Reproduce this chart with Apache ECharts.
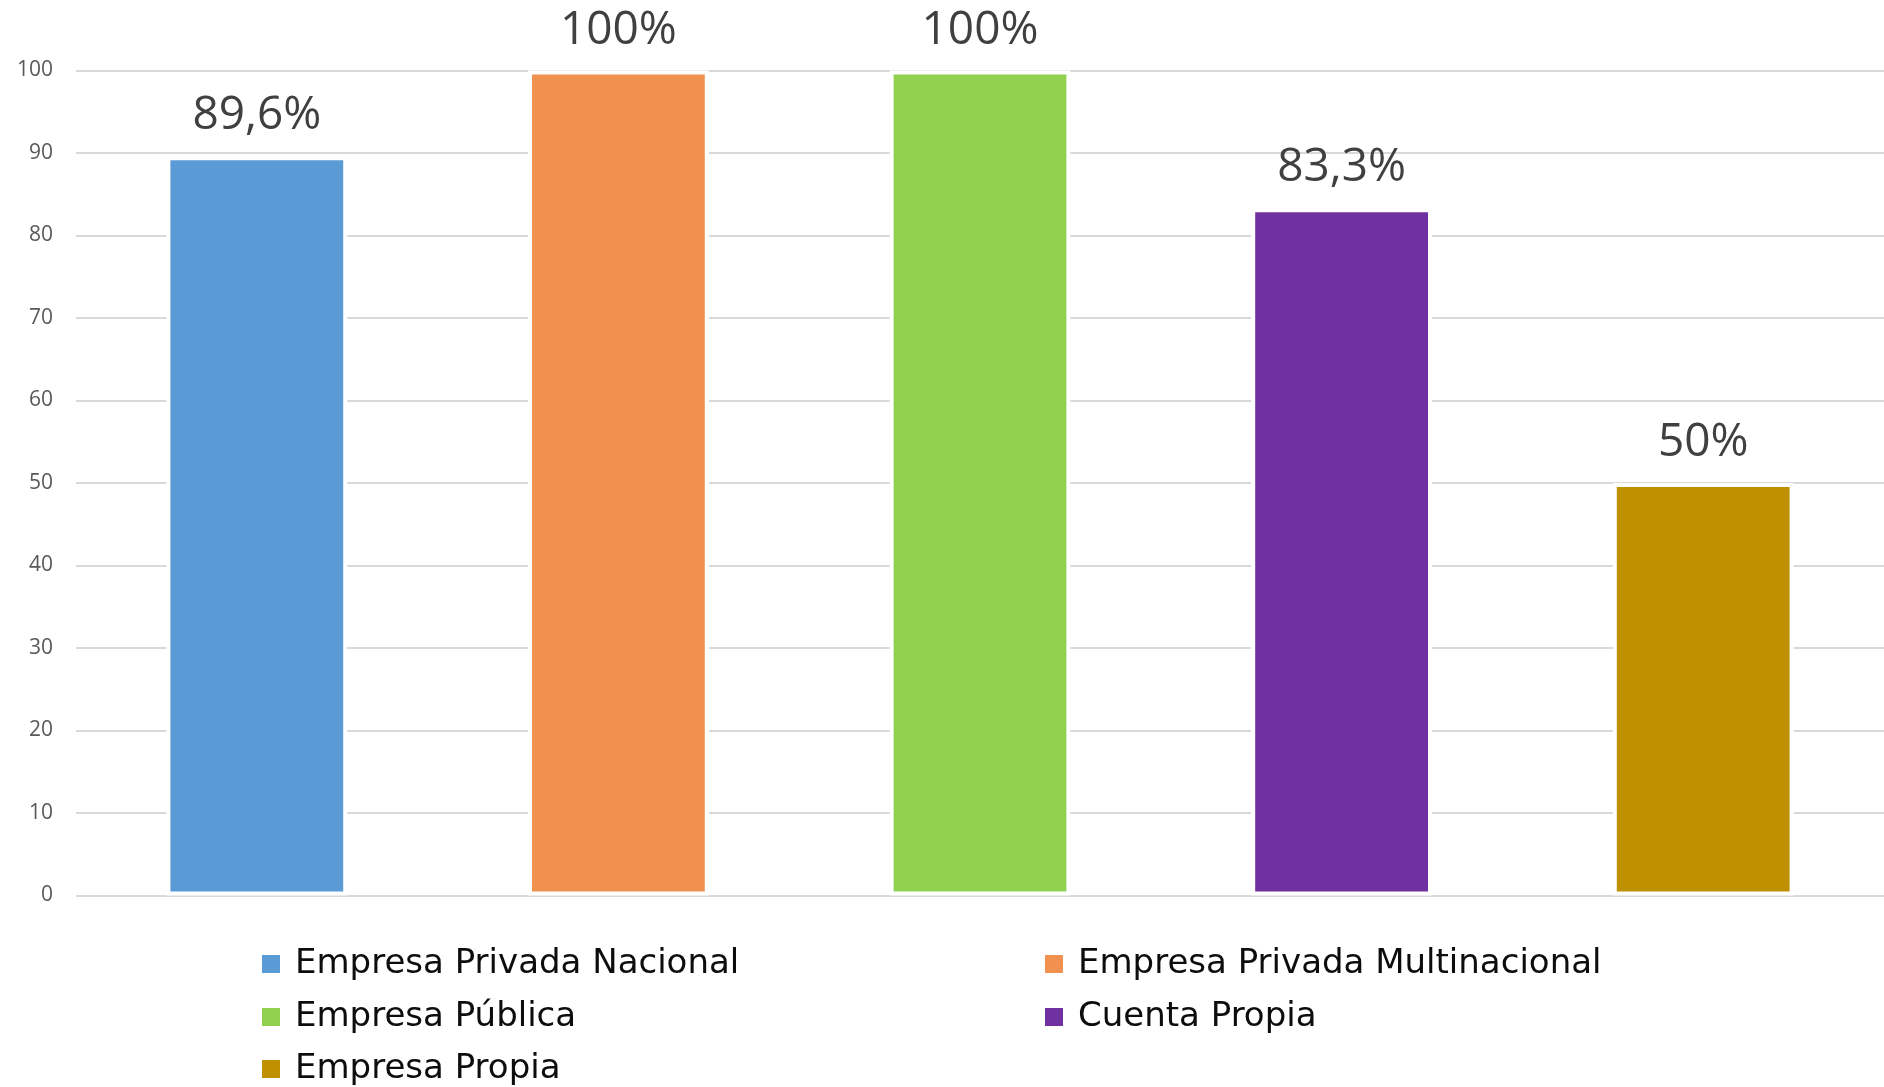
<!DOCTYPE html>
<html>
<head>
<meta charset="utf-8">
<script src="https://cdn.jsdelivr.net/npm/echarts@6/dist/echarts.min.js"></script>
<style>
html,body{margin:0;padding:0;background:#fff;}
#chart{width:1884px;height:1087px;}
</style>
</head>
<body>
<div id="chart"></div>
<script>
var categories = ['Empresa Privada Nacional', 'Empresa Privada Multinacional', 'Empresa Pública', 'Cuenta Propia', 'Empresa Propia'];
var values = [89.6, 100, 100, 83.3, 50];
var yTicks = [0, 10, 20, 30, 40, 50, 60, 70, 80, 90, 100];
var colors = ['#5B9BD5', '#F09150', '#92D050', '#7030A0', '#BF9000'];

var chart = echarts.init(document.getElementById('chart'));

var series = categories.map(function (name, i) {
  var data = categories.map(function (c, j) { return j === i ? values[i] : '-'; });
  return {
    name: name,
    type: 'bar',
    stack: 'all',
    barWidth: '50%',
    data: data,
    itemStyle: { color: colors[i], borderColor: '#ffffff', borderWidth: 4 },
    label: {
      show: true,
      position: 'top',
      distance: 17,
      fontFamily: 'Open Sans',
      fontSize: 46,
      color: '#404040',
      formatter: function (p) { return String(p.value).replace('.', ',') + '%'; }
    }
  };
});

// legend placement: column x and row center y for each category
var legendLeft = [260, 1043, 260, 1043, 260];
var legendRowCenter = [964, 964, 1017, 1017, 1069];
var legendBoxH = 40;

var legends = categories.map(function (name, i) {
  return {
    orient: 'horizontal',
    left: legendLeft[i],
    top: legendRowCenter[i] - legendBoxH / 2,
    padding: 0,
    itemWidth: 20,
    itemHeight: 20,
    icon: 'rect',
    selectedMode: false,
    data: [name],
    textStyle: { fontFamily: 'DejaVu Sans', fontSize: 34, lineHeight: legendBoxH, color: '#0d0d0d', padding: [0, 0, 0, 9] }
  };
});

chart.setOption({
  animation: false,
  backgroundColor: '#ffffff',
  grid: { left: 76, right: 0, top: 70.5, bottom: 191.5, containLabel: false },
  xAxis: {
    type: 'category',
    data: categories,
    axisLine: { show: false },
    axisTick: { show: false },
    axisLabel: { show: false }
  },
  yAxis: {
    type: 'value',
    min: yTicks[0],
    max: yTicks[yTicks.length - 1],
    interval: 10,
    axisLine: { show: false },
    axisTick: { show: false },
    axisLabel: { fontFamily: 'Open Sans', fontSize: 21, color: '#595959', margin: 23 },
    splitLine: { lineStyle: { color: '#d9d9d9', width: 2 } }
  },
  legend: legends,
  series: series
});
</script>
</body>
</html>
